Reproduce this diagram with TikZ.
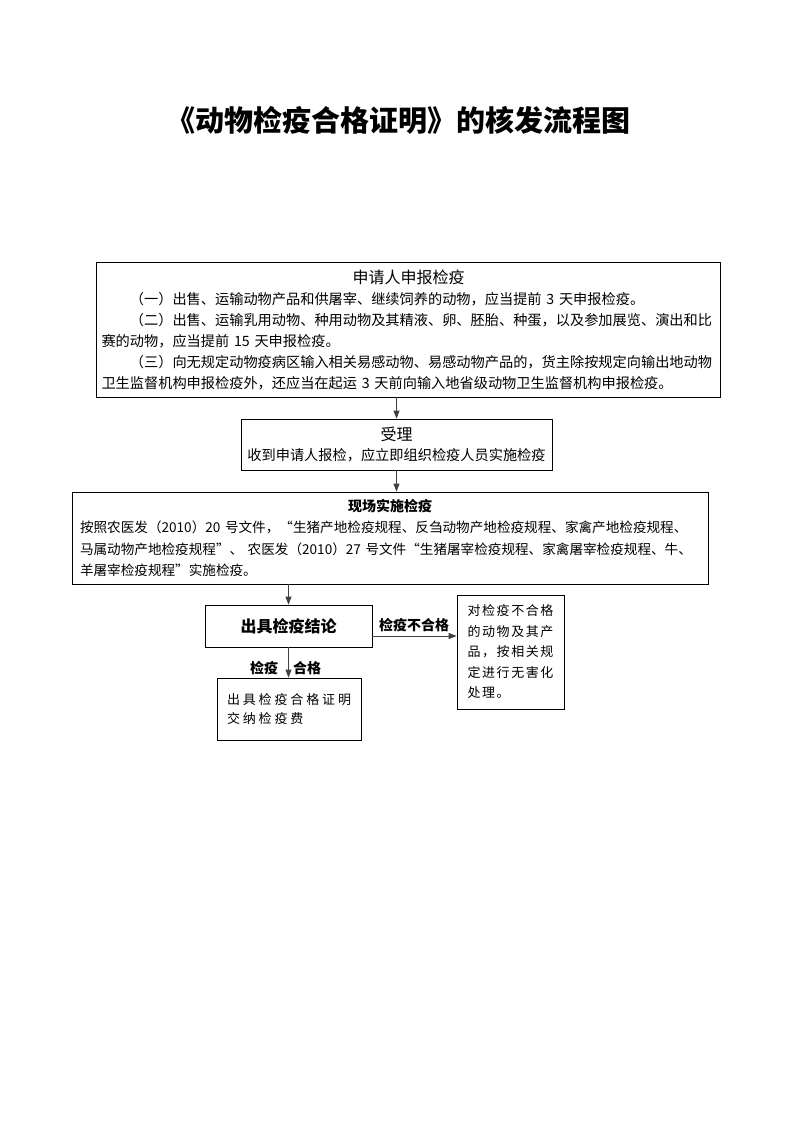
\documentclass[tikz,border=0pt]{standalone}
\usepackage{fontspec}
\setmainfont{Noto Sans CJK SC}
\newfontfamily\wideA[LetterSpace=22]{Noto Sans CJK SC}
\newfontfamily\wideB[LetterSpace=12]{Noto Sans CJK SC}
\usetikzlibrary{arrows.meta}
\begin{document}
\begin{tikzpicture}[x=1pt,y=-1pt,line width=.8pt,
	khung/.style={draw,inner sep=0pt,align=left},
	nhan/.style={inner sep=1pt,font=\fontsize{14}{16}\selectfont\bfseries},
	mui/.style={-{Triangle[length=8pt,width=6pt]},draw=black!75}]
	\def\thuong{\fontsize{14.2}{21}\selectfont} % cỡ chữ thân
	\useasboundingbox (0,0) rectangle (793,1122);
	\node[inner sep=0pt,font=\fontsize{29}{32}\selectfont\bfseries] (tieude) at (398,120) {《动物检疫合格证明》的核发流程图};
	% các khung
	\node[khung,minimum width=624,minimum height=135,text width=614pt,font=\thuong] (shenqing) at (408.5,329.5)
		{\makebox[614pt]{\fontsize{16}{18}\selectfont 申请人申报检疫}\\
		\hspace*{2em}（一）出售、运输动物产品和供屠宰、继续饲养的动物，应当提前 3 天申报检疫。\\
		\hspace*{2em}（二）出售、运输乳用动物、种用动物及其精液、卵、胚胎、种蛋，以及参加展览、演出和比\\
		赛的动物，应当提前 15 天申报检疫。\\
		\hspace*{2em}（三）向无规定动物疫病区输入相关易感动物、易感动物产品的，货主除按规定向输出地动物\\
		卫生监督机构申报检疫外，还应当在起运 3 天前向输入地省级动物卫生监督机构申报检疫。};
	\node[khung,align=center,minimum width=311,minimum height=51,font=\thuong] (shouli) at (396.5,444.5)
		{{\fontsize{16}{18}\selectfont 受理}\\[-1pt]收到申请人报检，应立即组织检疫人员实施检疫};
	\node[khung,minimum width=636,minimum height=92,text width=620pt,font=\fontsize{13.6}{21.5}\selectfont] (xianchang) at (390,538)
		{\makebox[620pt]{\fontsize{14}{16}\selectfont\bfseries 现场实施检疫}\\[0pt]
		按照农医发（2010）20 号文件，“生猪产地检疫规程、反刍动物产地检疫规程、家禽产地检疫规程、\\
		马属动物产地检疫规程”、 农医发（2010）27 号文件“生猪屠宰检疫规程、家禽屠宰检疫规程、牛、\\
		羊屠宰检疫规程”实施检疫。};
	\node[khung,align=center,minimum width=167,minimum height=42,font=\fontsize{16}{18}\selectfont\bfseries] (jielun) at (288.5,626) {出具检疫结论};
	\node[khung,minimum width=144,minimum height=62,text width=124pt,font=\fontsize{13}{19}\selectfont] (hege) at (289,709)
		{{\wideA 出具检疫合格证明}\\{\wideA 交纳检疫费}};
	\node[khung,minimum width=107,minimum height=114,font=\fontsize{13}{20.5}\selectfont] (buhege) at (510.5,652)
		{{\wideB 对检疫不合格}\\{\wideB 的动物及其产}\\{\wideB 品，按相关规}\\{\wideB 定进行无害化}\\{\wideB 处理。}};
	% các mũi tên
	\coordinate (ra) at ([yshift=-10pt]jielun.east);
	\draw[mui] (shouli.north |- shenqing.south) -- (shouli.north);
	\draw[mui] (shouli.south) -- (shouli.south |- xianchang.north);
	\draw[mui] (jielun.north |- xianchang.south) -- (jielun.north);
	\draw[mui] (jielun.south) -- (jielun.south |- hege.north);
	\draw[mui] (ra) -- (buhege.west |- ra);
	\node[nhan] (khonghop) at (414,625) {检疫不合格};
	\node[nhan] (kiemdich) at (264,668) {检疫};
	\node[nhan] (hopcach) at (307,668) {合格};
\end{tikzpicture}
\end{document}
